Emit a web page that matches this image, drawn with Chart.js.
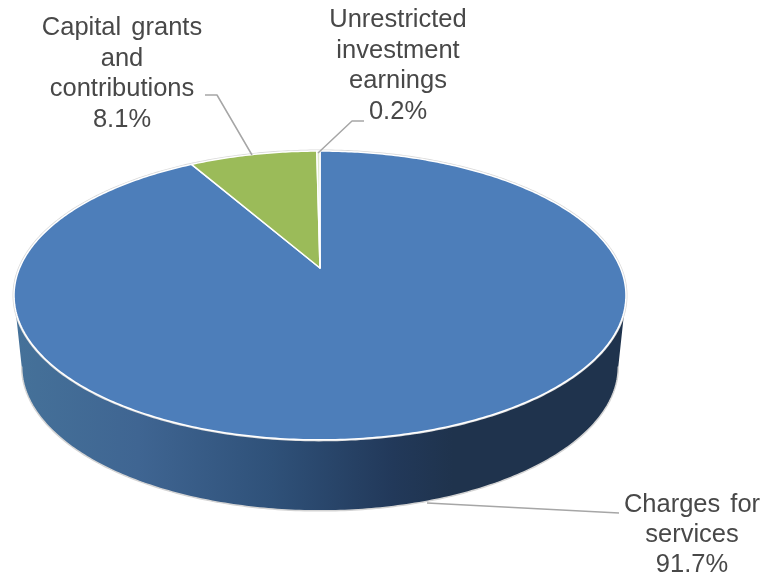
<!DOCTYPE html>
<html>
<head>
<meta charset="utf-8">
<style>
  html, body { margin: 0; padding: 0; background: #ffffff; }
  canvas { display: block; }
</style>
<script src="https://cdn.jsdelivr.net/npm/chart.js@4"></script>
</head>
<body>
<canvas id="myChart" width="766" height="577"></canvas>
<script>
const categories = ['Charges for services', 'Capital grants and contributions', 'Unrestricted investment earnings'];
const values = [91.7, 8.1, 0.2];
const sliceColors = ['#4d7eba', '#9bbb59', '#dfe8cc'];
const labelLines = [
    ['Charges for', 'services'],
    ['Capital grants', 'and', 'contributions'],
    ['Unrestricted', 'investment', 'earnings']
];

// Tilted disc: maps a point of the unit circle to the page with a perspective divide
const disc = { cx: 320, apexY: 268, a: 300.4, b: 88.3, p: -0.19, depth: 71, shrink: 0.975 };

function project(angle, lower) {
    const x = Math.cos(angle);
    const y = Math.sin(angle);
    const w = 1 + disc.p * y;
    return {
        x: disc.cx + (lower ? disc.shrink : 1) * disc.a * x / w,
        y: (disc.apexY + disc.b * y) / w + (lower ? disc.depth : 0)
    };
}

function traceRim(ctx, from, to, lower, moveFirst) {
    const steps = Math.max(2, Math.ceil(Math.abs(to - from) * 80));
    for (let i = 0; i <= steps; i++) {
        const p = project(from + (to - from) * i / steps, lower);
        if (i === 0 && moveFirst) ctx.moveTo(p.x, p.y);
        else ctx.lineTo(p.x, p.y);
    }
}

function drawWall(ctx) {
    const edge = Math.asin(-disc.p);
    const gradient = ctx.createLinearGradient(18, 0, 622, 0);
    gradient.addColorStop(0, '#457199');
    gradient.addColorStop(0.2, '#3f6592');
    gradient.addColorStop(0.42, '#2f5179');
    gradient.addColorStop(0.62, '#22395a');
    gradient.addColorStop(0.72, '#1f334d');
    gradient.addColorStop(1, '#1f334d');

    ctx.beginPath();
    traceRim(ctx, edge, Math.PI - edge, true, true);
    traceRim(ctx, Math.PI - edge, edge, false, false);
    ctx.closePath();
    ctx.fillStyle = gradient;
    ctx.fill();

    // pale edge around the outside of the wall
    ctx.beginPath();
    traceRim(ctx, edge, Math.PI - edge, true, true);
    ctx.strokeStyle = '#d4d4d4';
    ctx.lineWidth = 1.5;
    ctx.stroke();
}

function drawTop(ctx, arcs) {
    ctx.beginPath();
    traceRim(ctx, 0, Math.PI * 2, false, true);
    ctx.closePath();
    ctx.strokeStyle = '#d9d9d9';
    ctx.lineWidth = 3;
    ctx.stroke();

    arcs.forEach((arc, i) => {
        ctx.beginPath();
        ctx.moveTo(disc.cx, disc.apexY);
        traceRim(ctx, arc.startAngle, arc.endAngle, false, false);
        ctx.closePath();
        ctx.fillStyle = sliceColors[i];
        ctx.fill();
        ctx.strokeStyle = '#ffffff';
        ctx.lineWidth = 1.5;
        ctx.lineJoin = 'round';
        ctx.stroke();
    });
}

function drawLeader(ctx, pts) {
    ctx.beginPath();
    pts.forEach((p, i) => i ? ctx.lineTo(p[0], p[1]) : ctx.moveTo(p[0], p[1]));
    ctx.strokeStyle = '#a6a6a6';
    ctx.lineWidth = 1.5;
    ctx.stroke();
}

function drawLabel(ctx, index, x, baseline, step) {
    const lines = labelLines[index].concat(values[index].toFixed(1) + '%');
    ctx.font = '25.5px "Liberation Sans", Arial, sans-serif';
    ctx.wordSpacing = '3px';
    ctx.fillStyle = '#484848';
    ctx.textAlign = 'center';
    ctx.textBaseline = 'alphabetic';
    lines.forEach((line, i) => ctx.fillText(line, x, baseline + i * step));
}

// The pie controller works out the slice angles, this plugin paints them on the disc
const tiltedPie = {
    id: 'tiltedPie',
    beforeDatasetsDraw(chart) {
        const ctx = chart.ctx;
        const arcs = chart.getDatasetMeta(0).data;
        ctx.save();
        drawWall(ctx);
        drawTop(ctx, arcs);

        drawLeader(ctx, [[619, 513], [427, 503]]);
        drawLeader(ctx, [[205, 95], [217, 95], [252, 155]]);
        drawLeader(ctx, [[364, 121], [352, 121], [318, 153]]);

        drawLabel(ctx, 0, 692, 512, 30);
        drawLabel(ctx, 1, 122, 35, 30.5);
        drawLabel(ctx, 2, 398, 27, 30.5);
        ctx.restore();
        return false;
    }
};

new Chart(document.getElementById('myChart'), {
    type: 'pie',
    data: {
        labels: categories,
        datasets: [{ data: values, backgroundColor: sliceColors }]
    },
    options: {
        responsive: false,
        animation: false,
        plugins: {
            legend: { display: false },
            tooltip: { enabled: false }
        }
    },
    plugins: [tiltedPie]
});
</script>
</body>
</html>
